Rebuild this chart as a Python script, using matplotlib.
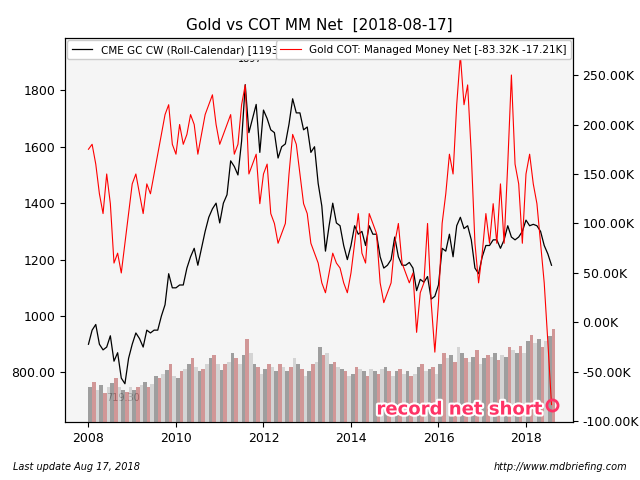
import matplotlib.pyplot as plt
import matplotlib.patheffects as pe
import numpy as np

# monthly values, Jan 2008 .. Aug 2018
gold = [900, 950, 970, 900, 880, 890, 930, 840, 870, 780, 760, 850,
        900, 940, 920, 890, 950, 940, 950, 950, 1000, 1040, 1150, 1100,
        1100, 1110, 1110, 1170, 1210, 1240, 1180, 1240, 1300, 1350, 1380, 1400,
        1330, 1400, 1430, 1550, 1530, 1500, 1620, 1820, 1650, 1700, 1750, 1580,
        1730, 1700, 1660, 1650, 1560, 1600, 1610, 1680, 1770, 1720, 1720, 1660,
        1670, 1580, 1600, 1470, 1390, 1230, 1320, 1400, 1330, 1320, 1250, 1200,
        1250, 1320, 1290, 1300, 1250, 1320, 1290, 1290, 1210, 1170, 1180, 1200,
        1280, 1210, 1180, 1180, 1190, 1170, 1090, 1130, 1120, 1140, 1060, 1070,
        1110, 1240, 1230, 1290, 1210, 1320, 1350, 1310, 1320, 1270, 1170, 1150,
        1210, 1250, 1250, 1270, 1270, 1240, 1270, 1320, 1280, 1270, 1280, 1300,
        1340, 1320, 1325, 1320, 1300, 1250, 1220, 1180]
cot = [175, 180, 160, 130, 110, 150, 120, 60, 70, 50, 80, 110,
       140, 150, 130, 110, 140, 130, 150, 170, 190, 210, 220, 180,
       170, 200, 180, 190, 210, 200, 170, 190, 210, 220, 230, 200,
       180, 190, 200, 210, 170, 180, 220, 240, 150, 160, 170, 120,
       150, 160, 110, 100, 80, 90, 100, 150, 190, 180, 150, 120,
       110, 80, 70, 60, 40, 30, 50, 70, 60, 55, 40, 30,
       50, 80, 110, 70, 60, 110, 100, 90, 40, 20, 30, 40,
       80, 100, 60, 50, 40, 50, -10, 30, 40, 100, 20, -30,
       20, 100, 130, 170, 150, 220, 270, 220, 240, 170, 80, 40,
       70, 110, 80, 120, 80, 140, 80, 160, 250, 160, 140, 80,
       150, 170, 140, 120, 80, 40, -20, -83]
volume = [30, 35, 28, 32, 25, 30, 34, 38, 30, 28, 26, 30,
          28, 30, 32, 35, 30, 33, 40, 38, 42, 45, 50, 40,
          38, 44, 46, 50, 55, 48, 44, 46, 50, 55, 58, 50,
          45, 50, 52, 60, 55, 50, 58, 72, 60, 50, 48, 42,
          46, 50, 48, 44, 50, 48, 44, 48, 55, 50, 46, 40,
          44, 50, 52, 65, 58, 60, 50, 52, 48, 46, 44, 40,
          42, 48, 46, 44, 40, 46, 44, 42, 46, 48, 44, 40,
          44, 46, 42, 44, 40, 42, 48, 50, 44, 46, 48, 42,
          50, 60, 55, 58, 52, 65, 60, 55, 52, 56, 62, 50,
          55, 58, 56, 60, 54, 58, 56, 65, 62, 60, 66, 60,
          70, 75, 68, 72, 65, 70, 74, 80]
t = 2008 + np.arange(len(gold)) / 12.0

fig, ax = plt.subplots(figsize=(6.4, 4.8), dpi=100)
fig.subplots_adjust(left=0.102, right=0.895, top=0.92, bottom=0.12)
ax.set_facecolor('#f5f5f5')

axv = ax.twinx()
axv.set_ylim(0, 330)
axv.axis('off')
cols = ['#888888', '#c98080', '#cccccc']
axv.bar(t, volume, width=1 / 12.0, color=[cols[i % 3] for i in range(len(t))],
        alpha=0.8, align='edge', zorder=1)

l1, = ax.plot(t, gold, color='black', lw=0.9, zorder=3,
              label='CME GC CW (Roll-Calendar) [1193 -27')
ax.set_ylim(623, 1984)
ax.set_xlim(2007.47, 2019.07)
ax.set_yticks([800, 1000, 1200, 1400, 1600, 1800])
ax.set_yticklabels(['800.00', '1000', '1200', '1400', '1600', '1800'])
ax.set_xticks([2008, 2010, 2012, 2014, 2016, 2018])
ax.text(2011.7, 1900, '1897', fontsize=7, ha='center')
ax.text(2008.8, 700, '719.30', fontsize=7, ha='center')

ax2 = ax.twinx()
l2, = ax2.plot(t, cot, color='red', lw=0.8, label='Gold COT: Managed Money Net [-83.32K -17.21K]')
ax2.set_ylim(-101, 287)
rticks = [-100, -50, 0, 50, 100, 150, 200, 250]
ax2.set_yticks(rticks)
ax2.set_yticklabels([f'{v:.2f}K' for v in rticks])
ax2.plot([t[-1]], [cot[-1]], 'o', mfc='none', mec='#ff3366', mew=2, ms=8)
ax2.text(2018.35, -88, 'record net short', color='#ff3366', fontsize=13,
         fontweight='bold', ha='right', va='center',
         path_effects=[pe.withStroke(linewidth=3, foreground='white')])

ax.tick_params(labelsize=9)
ax2.tick_params(labelsize=9)
leg1 = ax2.legend(handles=[l1], loc='upper left', fontsize=7.5, borderaxespad=0.2, framealpha=1)
ax2.add_artist(leg1)
ax2.legend(handles=[l2], loc='upper right', fontsize=7.5, borderaxespad=0.2, framealpha=1)

ax.set_title('Gold vs COT MM Net  [2018-08-17]', fontsize=11)
fig.text(0.02, 0.02, 'Last update Aug 17, 2018', fontsize=7, style='italic')
fig.text(0.98, 0.02, 'http://www.mdbriefing.com', fontsize=7, style='italic', ha='right')
fig.savefig('out.png')
